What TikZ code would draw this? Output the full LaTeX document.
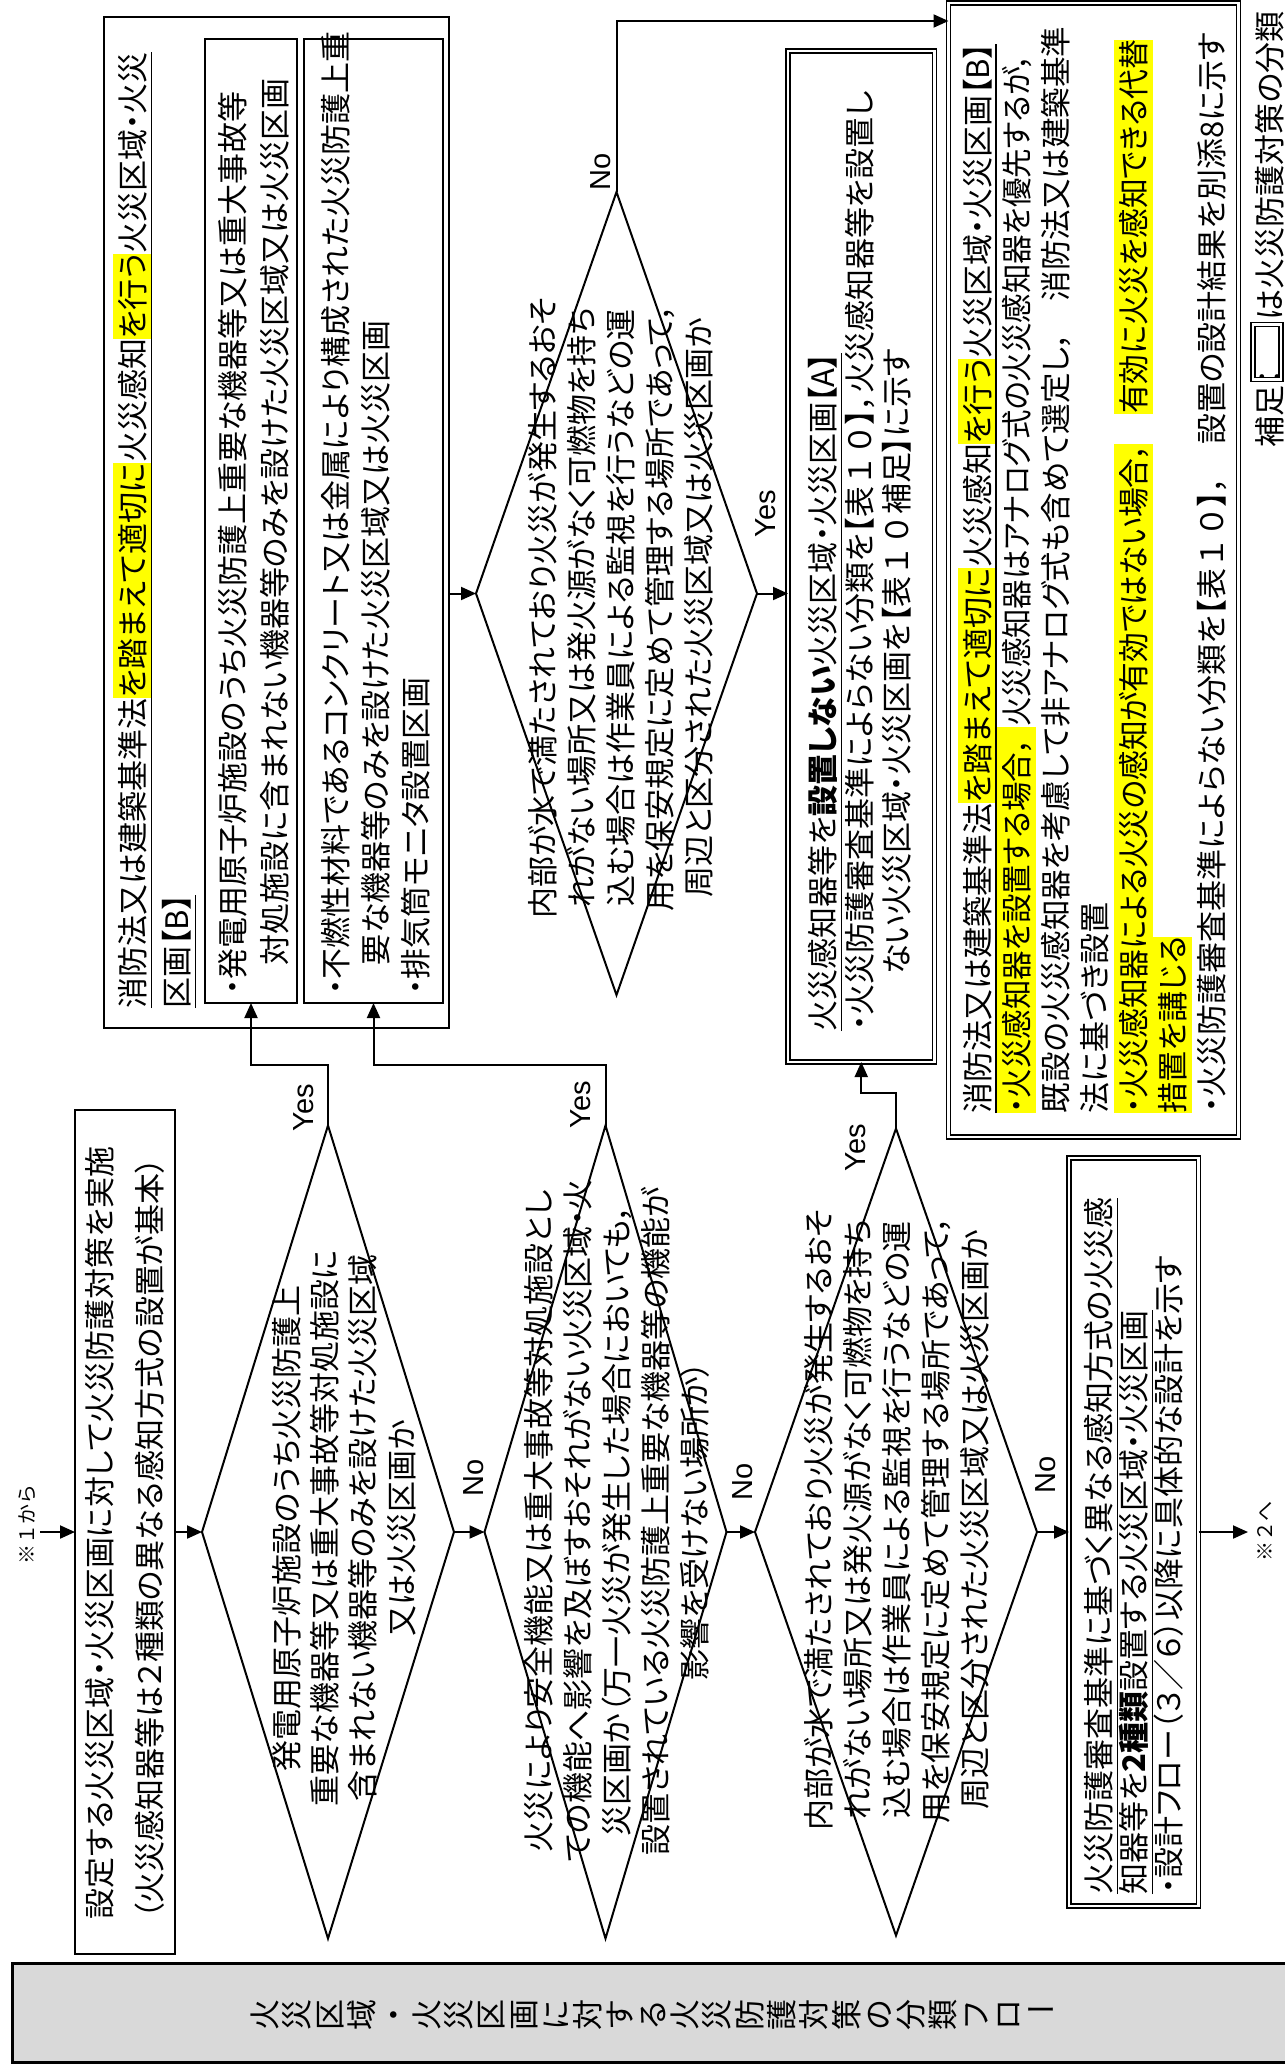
\documentclass[tikz,border=0pt]{standalone}
\usepackage{fontspec}
\usepackage{graphicx}
\newfontfamily\jpf[RawFeature=+palt]{Noto Sans CJK JP}
\newfontfamily\jpn{Noto Sans CJK JP}
\newfontfamily\lsans{Liberation Sans}
\usetikzlibrary{arrows.meta,shapes.geometric}
\definecolor{hly}{RGB}{255,255,0}
\newsavebox\HLb
\newsavebox\ULb
\newcommand\HL[1]{\sbox\HLb{#1}\rlap{\color{hly}\raisebox{-7.5pt}[0pt][0pt]{\rule{\wd\HLb}{39pt}}}\usebox\HLb}
\newcommand\UL[1]{\sbox\ULb{#1}\usebox\ULb\llap{\raisebox{-7.5pt}[0pt][0pt]{\rule{\wd\ULb}{1.6pt}}}}
\newcommand\FW[1]{{\jpn #1}}
\begin{document}
\begin{tikzpicture}[x=1pt,y=-1pt,
  every node/.style={inner sep=0pt,outer sep=0pt},
  jt/.style={rotate=90,font=\jpf\fontsize{31}{39}\selectfont,align=left},
  jc/.style={rotate=90,font=\jpf\fontsize{31}{39}\selectfont,align=center},
  yn/.style={rotate=90,font=\lsans\fontsize{29}{29}\selectfont},
  sbox/.style={draw,line width=2.5pt},
  ibox/.style={draw,line width=2pt},
  dbox/.style={draw,line width=1.5pt,double,double distance=2.5pt},
  dia/.style={draw,shape=diamond,line width=2pt},
  arr/.style={line width=2pt,-{Triangle[length=15pt,width=13pt]}}]
\useasboundingbox (0,0) rectangle (1285,2065);
\clip (0,0) rectangle (1285,2065);
\fill[white] (0,0) rectangle (1285,2065);

% title band
\node[draw,line width=3pt,fill=black!15,minimum width=1283pt,minimum height=99pt] (title) at (653.5,2012.5) {};
\node[rotate=90,font=\jpf\fontsize{31}{32.3}\selectfont,align=center] (ttl) at (653.5,2015) {火\\災\\区\\域\\・\\火\\災\\区\\画\\に\\対\\す\\る\\火\\災\\防\\護\\対\\策\\の\\分\\類\\フ\\ロ\\\raisebox{0.85em}{\rotatebox{-90}{ー}}};

% start
\coordinate (from1) at (40,1532);
\node[rotate=90,align=center,font=\jpn\fontsize{20}{22}\selectfont] (frm) at (27,1524) {※１から};
\node[sbox,minimum width=100pt,minimum height=844pt] (start) at (125,1532) {};
\node[jt,anchor=west,font=\jpf\fontsize{31}{50}\selectfont] (tstart) at (125,1919) {設定する火災区域・火災区画に対して火災防護対策を実施\\（火災感知器等は２種類の異なる感知方式の設置が基本）};
\draw[arr] (from1) -- (from1 -| start.west);

% diamonds
\node[dia,minimum width=252pt,minimum height=813pt] (d1) at (328,1532) {};
\node[dia,minimum width=242pt,minimum height=813pt] (d2) at (605.5,1532) {};
\node[dia,minimum width=282pt,minimum height=807pt] (d3) at (896,1532) {};
\node[dia,minimum width=281pt,minimum height=803pt] (d4) at (616.5,593.5) {};

\node[jc,font=\jpf\fontsize{31}{38.3}\selectfont] (td1) at (344,1528) {発電用原子炉施設のうち火災防護上\\重要な機器等又は重大事故等対処施設に\\含まれない機器等のみを設けた火災区域\\又は火災区画か};
\node[jc] (td2) at (617,1521) {火災により安全機能又は重大事故等対処施設とし\\ての機能へ影響を及ぼすおそれがない火災区域・火\\災区画か（万一火災が発生した場合においても，\\設置されている火災防護上重要な機器等の機能が\\影響を受けない場所か）};
\node[jc] (td3) at (897,1520) {内部が水で満たされており火災が発生するおそ\\れがない場所又は発火源がなく可燃物を持ち\\込む場合は作業員による監視を行うなどの運\\用を保安規定に定めて管理する場所であって，\\周辺と区分された火災区域又は火災区画か};
\node[jc] (td4) at (621,608) {内部が水で満たされており火災が発生するおそ\\れがない場所又は発火源がなく可燃物を持ち\\込む場合は作業員による監視を行うなどの運\\用を保安規定に定めて管理する場所であって，\\周辺と区分された火災区域又は火災区画か};

% box B (left)
\node[sbox,minimum width=345pt,minimum height=1011pt] (b1) at (276.5,522.5) {};
\node[ibox,minimum width=92pt,minimum height=964.5pt] (b1a) at (251,520.75) {};
\node[ibox,minimum width=139pt,minimum height=964.5pt] (b1b) at (373.5,520.75) {};
\node[jt,anchor=west,font=\jpf\fontsize{31}{44}\selectfont] (tb1) at (155,1008) {\UL{消防法又は建築基準法\HL{を踏まえて適切に}火災感知\HL{を行う}火災区域・火災}\\\UL{区画【B】}};
\node[jt,anchor=west,font=\jpf\fontsize{31}{42}\selectfont] (tb1a) at (254,995) {・発電用原子炉施設のうち火災防護上重要な機器等又は重大事故等\\\hspace*{30pt}対処施設に含まれない機器等のみを設けた火災区域又は火災区画};
\node[jt,anchor=west,font=\jpf\fontsize{31}{40}\selectfont] (tb1b) at (376,995) {・不燃性材料であるコンクリート又は金属により構成された火災防護上重\\\hspace*{30pt}要な機器等のみを設けた火災区域又は火災区画\\・排気筒モニタ設置区画};

% box A
\node[dbox,minimum width=146.5pt,minimum height=1011pt] (ba) at (861.25,556.5) {};
\node[jt,anchor=west,font=\jpf\fontsize{31}{37}\selectfont] (tba) at (860,1031) {\UL{火災感知器等を\textbf{設置しない}火災区域・火災区画【A】}\\・火災防護審査基準によらない分類を【表\FW{１０}】，火災感知器等を設置し\\\hspace*{56pt}ない火災区域・火災区画を【表\FW{１０}補足】に示す};

% box B (right)
\node[dbox,minimum width=290pt,minimum height=1134pt] (b2) at (1093.5,570) {};
\node[jt,anchor=west] (tb2) at (1095,1113) {\UL{消防法又は建築基準法\HL{を踏まえて適切に}火災感知\HL{を行う}火災区域・火災区画【B】}\\%
\scalebox{0.95}[1]{\HL{・火災感知器を設置する場合，\hspace{12pt}}火災感知器はアナログ式の火災感知器を優先するが，}\\%
\scalebox{0.985}[1]{既設の火災感知器を考慮して非アナログ式も含めて選定し，　消防法又は建築基準}\\%
法に基づき設置\\%
\scalebox{0.96}[1]{\HL{・火災感知器による火災の感知が有効ではない場合，}　\HL{有効に火災を感知できる代替}}\\%
\HL{措置を講じる}\\%
・火災防護審査基準によらない分類を【表\FW{１０}】，　設置の設計結果を別添8に示す};

% box 2 types
\node[dbox,minimum width=129.5pt,minimum height=748pt] (b3) at (1133.75,1532) {};
\node[jt,anchor=west,font=\jpf\fontsize{31}{35}\selectfont] (tb3) at (1134,1894) {\UL{火災防護審査基準に基づく異なる感知方式の火災感}\\\UL{知器等を\textbf{2種類}設置する火災区域・火災区画}\\・設計フロー（３／６）以降に具体的な設計を示す};
\coordinate (to2) at (1248,1532);
\node[rotate=90,align=center,font=\jpn\fontsize{20}{22}\selectfont] (to2t) at (1265,1531) {※２へ};

% footnote
\node[jt,anchor=west] (fn1) at (1270,447) {補足：};
\node[dbox,minimum width=28pt,minimum height=55pt] (fnbox) at (1267,352) {};
\node[jt,anchor=west] (fn2) at (1270,320) {は火災防護対策の分類};

% connectors
\draw[arr] (start.east |- d1.west) -- (d1.west);
\draw[arr] (d1.east) -- (d2.west);
\draw[arr] (d2.east) -- (d3.west);
\draw[arr] (d3.east) -- (b3.west);
\draw[arr] (b3.east) -- (to2);
\coordinate (e1) at (251,1065);
\coordinate (e2) at (373.5,1065);
\draw[arr] (d1.north) |- (e1) -- (b1a.south);
\draw[arr] (d2.north) |- (e2) -- (b1b.south);
\draw[arr] (b1.east |- d4.west) -- (d4.west);
\draw[arr] (d4.east) -- (d4.east -| ba.west);
\coordinate (n4) at (616.5,21);
\draw[arr] (d4.north) -- (n4) -- (n4 -| b2.west);
\coordinate (e4) at (861.25,1093);
\draw[arr] (d3.north) |- (e4) -- (ba.south);

% labels
\node[yn] (y1) at (304,1108) {Yes};
\node[yn] (y2) at (581,1105) {Yes};
\node[yn] (y3) at (856,1148) {Yes};
\node[yn] (y4) at (766,514) {Yes};
\node[yn] (n1) at (474,1478) {No};
\node[yn] (n2) at (743,1482) {No};
\node[yn] (n3) at (1046,1475) {No};
\node[yn] (n4l) at (601,172) {No};
\end{tikzpicture}
\end{document}
